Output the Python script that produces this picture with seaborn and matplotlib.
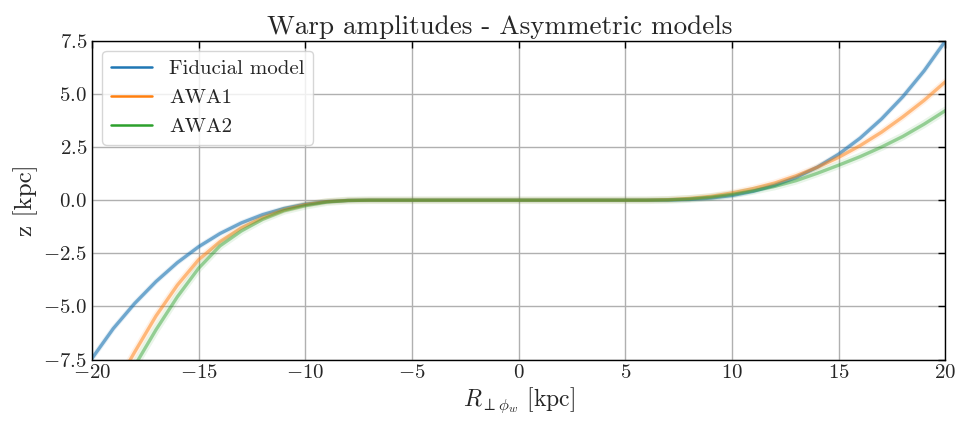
import numpy as np
import pandas as pd
import matplotlib
matplotlib.use("Agg")
import matplotlib.pyplot as plt
from matplotlib.lines import Line2D
import seaborn as sns

# ---- data ----
R = list(range(-20, 21))
fiducial = [-7.45, -6.04, -4.86, -3.83, -2.94, -2.19, -1.57, -1.07, -0.68, -0.39, -0.19, -0.068, -0.012,
            0, 0, 0, 0, 0, 0, 0, 0, 0, 0, 0, 0, 0, 0,
            0.005, 0.032, 0.10, 0.22, 0.42, 0.70, 1.07, 1.56, 2.17, 2.92, 3.82, 4.87, 6.09, 7.5]
awa1 = [-10.9, -8.9, -7.15, -5.45, -4.0, -2.8, -1.95, -1.3, -0.83, -0.46, -0.21, -0.07, -0.011,
        0, 0, 0, 0, 0, 0, 0, 0, 0, 0, 0, 0, 0,
        0.002, 0.024, 0.082, 0.18, 0.34, 0.55, 0.81, 1.15, 1.55, 2.02, 2.57, 3.2, 3.92, 4.7, 5.58]
awa2 = [-11.8, -9.7, -7.8, -6.1, -4.55, -3.2, -2.15, -1.45, -0.9, -0.5, -0.26, -0.09, -0.015,
        0, 0, 0, 0, 0, 0, 0, 0, 0, 0, 0, 0, 0,
        0.0, 0.013, 0.058, 0.14, 0.27, 0.44, 0.65, 0.92, 1.27, 1.65, 2.05, 2.5, 3.0, 3.58, 4.22]
models = ["Fiducial model", "AWA1", "AWA2"]
series = [fiducial, awa1, awa2]
colors = ["#1f77b4", "#ff7f0e", "#2ca02c"]
x_ticks = [-20, -15, -10, -5, 0, 5, 10, 15, 20]
y_ticks = [-7.5, -5.0, -2.5, 0.0, 2.5, 5.0, 7.5]

df = pd.concat([pd.DataFrame({"R": R, "z": s, "model": m}) for m, s in zip(models, series)],
               ignore_index=True)

sns.set_style("white")
plt.rcParams["font.family"] = "serif"
plt.rcParams["font.serif"] = ["cmr10"]
plt.rcParams["mathtext.fontset"] = "cm"
plt.rcParams["axes.formatter.use_mathtext"] = True
plt.rcParams["axes.unicode_minus"] = True

fig = plt.figure(figsize=(9.59, 4.21), dpi=100)
ax = fig.add_axes([0.0959, 0.146, 0.890, 0.757])

style = {"Fiducial model": (3.8, 0.10, 0.6), "AWA1": (4.8, 0.10, 0.5), "AWA2": (5.6, 0.10, 0.45)}
for m, c in zip(models, colors):
    sub = df[df["model"] == m]
    w, a, core_a = style[m]
    sns.lineplot(data=sub, x="R", y="z", ax=ax, color=c, lw=w, alpha=a, legend=False)
    sns.lineplot(data=sub, x="R", y="z", ax=ax, color=c, lw=2.4, alpha=core_a, legend=False)

ax.set_xlim(-20, 20)
ax.set_ylim(-7.5, 7.5)
ax.set_xticks(x_ticks)
ax.set_yticks(y_ticks)
ax.grid(True, color="#b0b0b0", lw=1.0)
ax.set_axisbelow(True)
ax.tick_params(direction="in", top=True, right=True, length=5, width=1, labelsize=15, color="black")
for sp in ax.spines.values():
    sp.set_color("black")
    sp.set_linewidth(1.0)

ax.set_xlabel(r"$R_{\perp \phi_w}$ [kpc]", fontsize=17, labelpad=2)
ax.set_ylabel("z [kpc]", fontsize=18, labelpad=4)
ax.set_title("Warp amplitudes - Asymmetric models", fontsize=19.5, pad=5, x=0.478)

handles = [Line2D([0], [0], color=c, lw=1.8) for c in colors]
ax.legend(handles, models, loc="upper left", fontsize=15, frameon=True, fancybox=True,
          framealpha=0.8, edgecolor="#cccccc", handlelength=2.0, borderaxespad=0.5)

fig.savefig("out.png", dpi=100)
